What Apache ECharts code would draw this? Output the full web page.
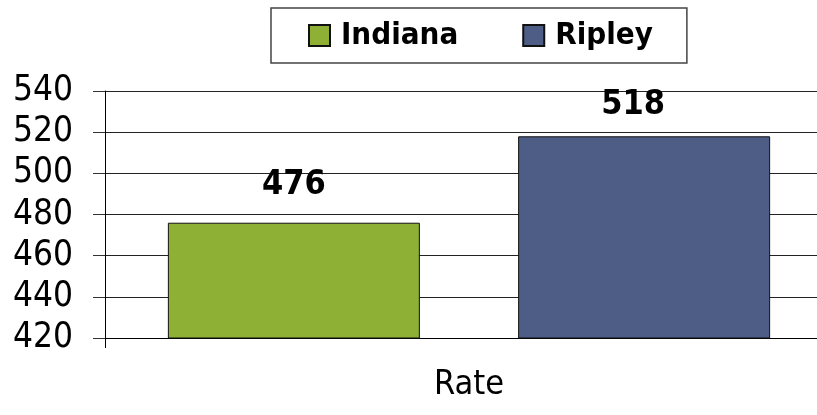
<!DOCTYPE html>
<html>
<head>
<meta charset="utf-8">
<script src="https://cdn.jsdelivr.net/npm/echarts@6/dist/echarts.min.js"></script>
<style>html,body{margin:0;padding:0;background:#fff;overflow:hidden;width:817px;height:415px;}#c{width:833px;height:415px;}</style>
</head>
<body>
<div id="c"></div>
<script>
const categories = ['Rate'];
const seriesNames = ['Indiana', 'Ripley'];
const indianaValues = [476];
const ripleyValues = [518];
const yTicks = [420, 440, 460, 480, 500, 520, 540];

const FONT = '"DejaVu Sans Condensed", "DejaVu Sans", sans-serif';
const chart = echarts.init(document.getElementById('c'));
chart.setOption({
  animation: false,
  textStyle: { fontFamily: FONT },
  legend: {
    data: seriesNames,
    left: 271, top: 8,
    padding: [12, 34, 12, 37],
    itemGap: 64,
    itemWidth: 21, itemHeight: 21,
    borderColor: '#444', borderWidth: 1.5,
    icon: 'rect',
    textStyle: { fontSize: 31, fontWeight: 'bold', color: '#000', fontFamily: FONT, padding: [0, 0, 0, 6] }
  },
  grid: { left: 105, top: 91, bottom: 77, right: 0 },
  xAxis: {
    type: 'category',
    data: categories,
    axisLine: { lineStyle: { color: '#000', width: 1 } },
    axisTick: { show: true, length: 10, lineStyle: { color: '#000' } },
    axisLabel: { fontSize: 34, color: '#000', margin: 30, fontFamily: FONT }
  },
  yAxis: {
    type: 'value',
    min: yTicks[0], max: yTicks[yTicks.length - 1], interval: 20,
    axisLine: { show: true, lineStyle: { color: '#000', width: 1 } },
    axisTick: { show: true, length: 12, lineStyle: { color: '#333' } },
    axisLabel: { fontSize: 35, color: '#000', margin: 32, fontFamily: FONT },
    splitLine: { lineStyle: { color: '#222', width: 1.2 } }
  },
  series: [
    {
      name: seriesNames[0], type: 'bar', data: indianaValues,
      barWidth: 252, barGap: '39%',
      itemStyle: { color: '#8DB035', borderColor: '#111', borderWidth: 1 },
      label: { show: true, position: 'top', distance: 21, fontSize: 34, fontWeight: 'bold', color: '#000', fontFamily: FONT }
    },
    {
      name: seriesNames[1], type: 'bar', data: ripleyValues,
      barWidth: 252,
      itemStyle: { color: '#4D5D85', borderColor: '#111', borderWidth: 1 },
      label: { show: true, position: 'top', distance: 14, offset: [-11, 0], fontSize: 34, fontWeight: 'bold', color: '#000', fontFamily: FONT }
    }
  ]
});
</script>
</body>
</html>
